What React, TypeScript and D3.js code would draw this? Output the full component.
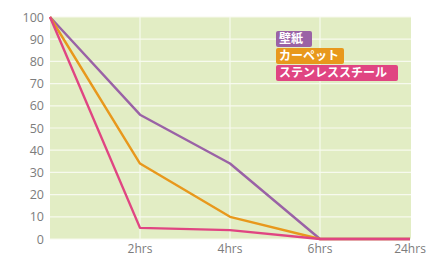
import React from "react";
import * as d3 from "d3";

const categories = ["0", "2hrs", "4hrs", "6hrs", "24hrs"];
const yTicks = [0, 10, 20, 30, 40, 50, 60, 70, 80, 90, 100];

const seriesNames = ["壁紙", "カーペット", "ステンレススチール"];
const wallpaper = [100, 56, 34, 0, 0];
const carpet = [100, 34, 10, 0, 0];
const steel = [100, 5, 4, 0, 0];
const seriesColors = ["#9a62a6", "#e8981c", "#e04582"];

const W = 432;
const H = 256;

const App = () => {
  const x = d3.scalePoint().domain(categories).range([50, 410]);
  const y = d3.scaleLinear().domain([0, 100]).range([239, 17]);

  const series = [wallpaper, carpet, steel];
  const line = d3
    .line<number>()
    .x((_, i) => x(categories[i]) as number)
    .y((d) => y(d));

  const font = "'Open Sans', 'DejaVu Sans', sans-serif";
  const legendWidths = [36, 68, 122];

  return (
    <svg
      width={W}
      height={H}
      style={{ position: "absolute", left: 0, top: 0, background: "#fff" }}
    >
      {/* plot background */}
      <rect x={50} y={17} width={361} height={222} fill="#e2edc4" />

      {/* horizontal grid */}
      {yTicks.map((t) => (
        <line key={t} x1={50} x2={411} y1={y(t)} y2={y(t)} stroke="#f7faee" strokeWidth={1.2} />
      ))}
      {/* vertical grid */}
      {categories.slice(1, 4).map((c) => (
        <line key={c} x1={x(c)} x2={x(c)} y1={17} y2={239} stroke="#f7faee" strokeWidth={1.2} />
      ))}

      {/* y labels */}
      {yTicks.map((t) => (
        <text
          key={t}
          x={44}
          y={y(t)}
          dy="0.36em"
          textAnchor="end"
          fontFamily={font}
          fontSize={12.5}
          fill="#7c7c7c"
        >
          {t}
        </text>
      ))}

      {/* x labels */}
      {categories.slice(1).map((c) => (
        <text
          key={c}
          x={x(c)}
          y={249}
          dy="0.34em"
          textAnchor="middle"
          fontFamily={font}
          fontSize={12}
          fill="#7c7c7c"
        >
          {c}
        </text>
      ))}

      {/* lines */}
      {series.map((s, i) => (
        <path
          key={i}
          d={line(s) || ""}
          fill="none"
          stroke={seriesColors[i]}
          strokeWidth={2.4}
          strokeLinejoin="round"
        />
      ))}

      {/* legend */}
      {seriesNames.map((name, i) => (
        <g key={name} transform={`translate(276, ${31 + i * 17})`}>
          <rect width={legendWidths[i]} height={16} rx={2} fill={seriesColors[i]} />
          <text
            x={3}
            y={8}
            dy="0.35em"
            fontFamily="'Noto Sans CJK JP', sans-serif"
            fontWeight="bold"
            fontSize={12}
            fill="#fff"
          >
            {name}
          </text>
        </g>
      ))}
    </svg>
  );
};

export default App;
